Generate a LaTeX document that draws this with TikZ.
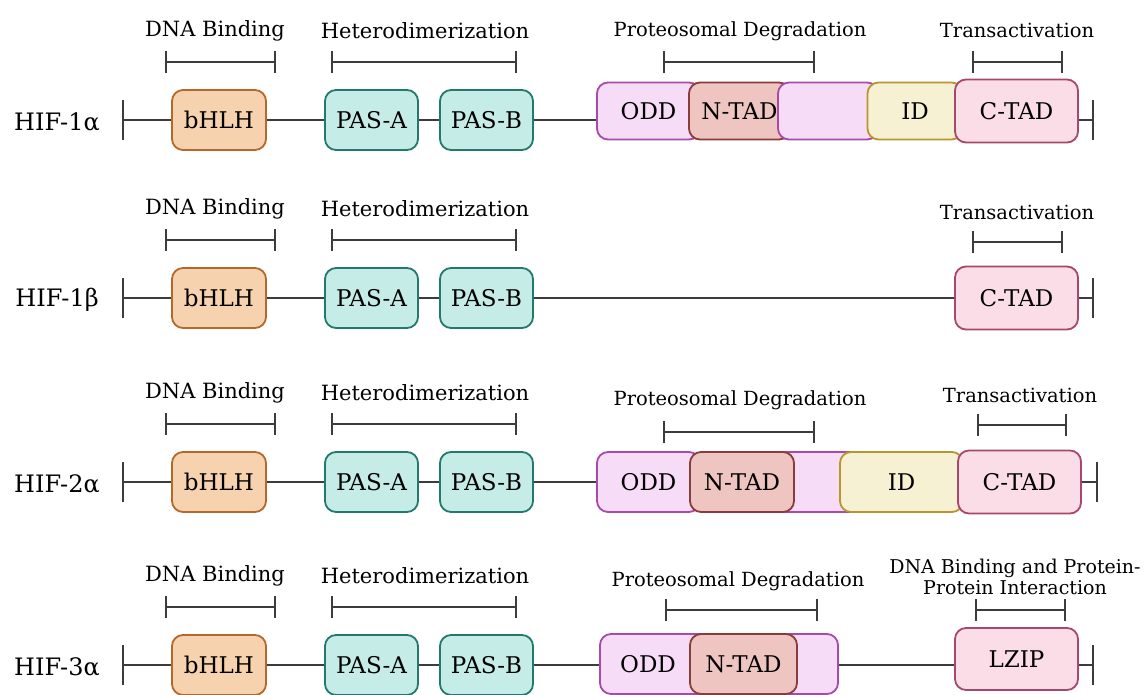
\documentclass[tikz,border=0pt]{standalone}
\usepackage{fontspec}
\setmainfont{DejaVu Serif}
\usetikzlibrary{arrows.meta}
\definecolor{bhlhF}{HTML}{F6D2AE}\definecolor{bhlhD}{HTML}{B5682C}
\definecolor{pasF}{HTML}{C5ECE6}\definecolor{pasD}{HTML}{23796D}
\definecolor{oddF}{HTML}{F6DCF6}\definecolor{oddD}{HTML}{A84AA8}
\definecolor{ntadF}{HTML}{EEC5C0}\definecolor{ntadD}{HTML}{8A3B3B}
\definecolor{idF}{HTML}{F7F1D3}\definecolor{idD}{HTML}{B8962F}
\definecolor{ctadF}{HTML}{FADDE6}\definecolor{ctadD}{HTML}{A8476D}
\definecolor{ln}{HTML}{3C3C3C}
\newcommand\rowleft[3]{%
  \node[hifname] (n#1) at (57,#2+2) {#3};
  \coordinate (s#1) at (123,#2);
  \draw[bb] ([yshift=-20pt]s#1) -- ([yshift=20pt]s#1);
  \node[bhlh] (b#1) at (219,#2) {bHLH};
  \node[pas] (pa#1) at (371.5,#2) {PAS-A};
  \node[pas] (pb#1) at (486.5,#2) {PAS-B};
  \draw[bb] (s#1) -- (b#1) (b#1) -- (pa#1) (pa#1) -- (pb#1);
  \node[lab] (ld#1) at (215,#2-89) {DNA Binding};
  \node[lab] (lh#1) at (425,#2-89) {Heterodimerization};
  \coordinate (bd#1a) at (165,#2-58); \coordinate (bd#1b) at (276,#2-58);
  \coordinate (bh#1a) at (331,#2-58); \coordinate (bh#1b) at (517,#2-58);
  \draw[brk] (bd#1a) -- (bd#1b);
  \draw[brk] (bh#1a) -- (bh#1b);
}
\begin{document}
\begin{tikzpicture}[x=1pt,y=-1pt,
  box/.style={draw, rounded corners=11pt, line width=1.8pt, inner sep=0pt, minimum height=60pt, font=\fontsize{23}{26}\selectfont},
  bhlh/.style={box, fill=bhlhF, draw=bhlhD, minimum width=94pt},
  pas/.style={box, fill=pasF, draw=pasD, minimum width=93pt},
  oddb/.style={box, fill=oddF, draw=oddD},
  ntad/.style={box, fill=ntadF, draw=ntadD},
  idb/.style={box, fill=idF, draw=idD},
  ctad/.style={box, fill=ctadF, draw=ctadD, minimum width=123pt, minimum height=63pt},
  bb/.style={line width=2pt, draw=ln},
  brk/.style={line width=2pt, draw=ln, {Bar[width=22pt]}-{Bar[width=22pt]}},
  lab/.style={font=\fontsize{21}{23}\selectfont, text=black, inner sep=0pt},
  labs/.style={lab, font=\fontsize{19.5}{22}\selectfont},
  hifname/.style={font=\fontsize{24}{28}\selectfont, inner sep=0pt}]
\useasboundingbox (0,0) rectangle (1145,695);
\fill[white] (0,0) rectangle (1145,695);

% ---------- Row 1: HIF-1alpha ----------
\rowleft{1}{120}{HIF-1α}
\node[oddb, minimum width=103pt, minimum height=57pt] (o1) at (648.5,111) {ODD};
\node[ntad, minimum width=101pt, minimum height=57pt] (t1) at (739.5,111) {N-TAD};
\node[oddb, minimum width=100pt, minimum height=57pt] (p1) at (828,111) {};
\node[idb, minimum width=95pt, minimum height=57pt] (i1) at (915,111) {ID};
\node[ctad] (c1) at (1016.5,111) {C-TAD};
\coordinate (e1) at (1093,120);
\draw[bb] (pb1.east) -- (pb1.east -| o1.west);
\draw[bb] (c1.east |- e1) -- (e1);
\draw[bb] ([yshift=-20pt]e1) -- ([yshift=20pt]e1);
\node[labs] (lp1) at (740,31) {Proteosomal Degradation};
\node[labs] (lt1) at (1017,30) {Transactivation};
\coordinate (bp1a) at (663,62); \coordinate (bp1b) at (815,62);
\coordinate (bt1a) at (972,62); \coordinate (bt1b) at (1063,62);
\draw[brk] (bp1a) -- (bp1b);
\draw[brk] (bt1a) -- (bt1b);

% ---------- Row 2: HIF-1beta ----------
\rowleft{2}{298}{HIF-1β}
\node[ctad] (c2) at (1016.5,298) {C-TAD};
\coordinate (e2) at (1093,298);
\draw[bb] (pb2) -- (c2);
\draw[bb] (c2) -- (e2);
\draw[bb] ([yshift=-20pt]e2) -- ([yshift=20pt]e2);
\node[labs] (lt2) at (1017,212) {Transactivation};
\coordinate (bt2a) at (972,242); \coordinate (bt2b) at (1063,242);
\draw[brk] (bt2a) -- (bt2b);

% ---------- Row 3: HIF-2alpha ----------
\rowleft{3}{482}{HIF-2α}
\node[oddb, minimum width=103pt] (o3) at (648.5,482) {ODD};
\node[oddb, minimum width=120pt] (p3) at (820,482) {};
\node[ntad, minimum width=104pt] (t3) at (742,482) {N-TAD};
\node[idb, minimum width=123pt] (i3) at (901.5,482) {ID};
\node[ctad] (c3) at (1019.5,482) {C-TAD};
\coordinate (e3) at (1097,482);
\draw[bb] (pb3.east) -- (o3.west);
\draw[bb] (c3) -- (e3);
\draw[bb] ([yshift=-20pt]e3) -- ([yshift=20pt]e3);
\node[labs] (lp3) at (740,400) {Proteosomal Degradation};
\node[labs] (lt3) at (1020,395) {Transactivation};
\coordinate (bp3a) at (663,432); \coordinate (bp3b) at (815,432);
\coordinate (bt3a) at (977,425); \coordinate (bt3b) at (1067,425);
\draw[brk] (bp3a) -- (bp3b);
\draw[brk] (bt3a) -- (bt3b);

% ---------- Row 4: HIF-3alpha ----------
\rowleft{4}{665}{HIF-3α}
\node[oddb, minimum width=238pt] (o4) at (719,664) {};
\node[font=\fontsize{23}{26}\selectfont, inner sep=0pt] (ot4) at (648,664) {ODD};
\node[ntad, minimum width=107pt] (t4) at (743.5,664) {N-TAD};
\node[ctad, minimum height=62pt, minimum width=123pt] (z4) at (1016.5,659) {LZIP};
\coordinate (e4) at (1093,665);
\draw[bb] (pb4.east) -- (o4.west |- pb4.east);
\draw[bb] (o4.east |- e4) -- (z4.west |- e4);
\draw[bb] (z4.east |- e4) -- (e4);
\draw[bb] ([yshift=-20pt]e4) -- ([yshift=20pt]e4);
\node[labs] (lp4) at (738,581) {Proteosomal Degradation};
\node[lab, align=center, font=\fontsize{19}{21.5}\selectfont] (lz4) at (1015,577) {DNA Binding and Protein-\\Protein Interaction};
\coordinate (bp4a) at (665,610); \coordinate (bp4b) at (818,610);
\coordinate (bz4a) at (975,610); \coordinate (bz4b) at (1066,610);
\draw[brk] (bp4a) -- (bp4b);
\draw[brk] (bz4a) -- (bz4b);
\end{tikzpicture}
\end{document}
